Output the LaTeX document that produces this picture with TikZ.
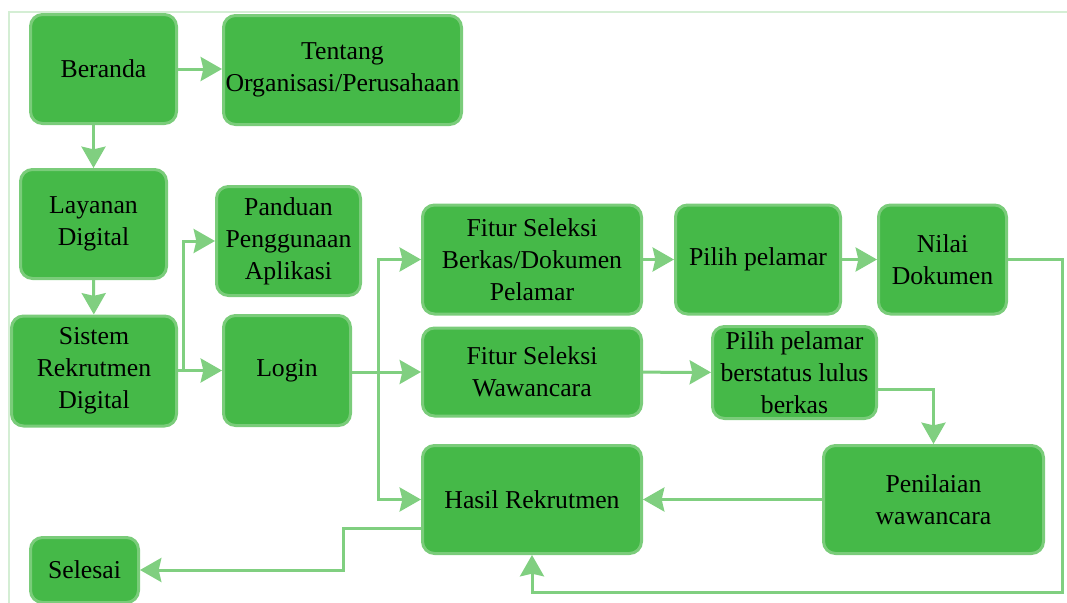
\documentclass[tikz,border=0pt]{standalone}
\usepackage{fontspec}
\setmainfont{Liberation Serif}
\usetikzlibrary{arrows.meta}
\definecolor{boxfill}{RGB}{69,185,72}
\definecolor{boxline}{RGB}{122,204,122}
\definecolor{arrline}{RGB}{128,207,128}
\definecolor{framegreen}{RGB}{212,238,212}
\tikzset{
  box/.style={draw=boxline, fill=boxfill, line width=2.25pt, rounded corners=9pt,
    align=center, inner sep=1pt, font=\fontsize{19.3}{24}\selectfont},
  arr/.style={draw=arrline, line width=2.25pt, -{Stealth[inset=2pt, length=16pt, width=18pt]}}
}
\begin{document}
\begin{tikzpicture}[x=0.75pt, y=-0.75pt]
            \useasboundingbox (0,0) rectangle (1067,603);
            \draw [framegreen, line width=1.1pt] (8,12) -- (1067,12);
            \draw [framegreen, line width=1.1pt] (9,12) -- (9,603);
            % boxes
            \node [box, minimum width=109.5pt, minimum height=81.75pt] (beranda) at (103.5,69) {Beranda};
            \node [box, minimum width=178.5pt, minimum height=81.75pt] (tentang) at (342.5,70) {Tentang\\Organisasi/Perusahaan};
            \node [box, minimum width=109.5pt, minimum height=81.75pt] (layanan) at (93.5,224) {Layanan\\Digital};
            \node [box, minimum width=108pt, minimum height=81.75pt] (panduan) at (288.5,241) {Panduan\\Penggunaan\\Aplikasi};
            \node [box, minimum width=123.75pt, minimum height=82.5pt] (sistem) at (94,371) {Sistem\\Rekrutmen\\Digital};
            \node [box, minimum width=95.25pt, minimum height=82.5pt] (login) at (287,370.5) {Login};
            \node [box, minimum width=164.25pt, minimum height=81.75pt] (fiturBerkas) at (532,259.5) {Fitur Seleksi\\Berkas/Dokumen\\Pelamar};
            \node [box, minimum width=123.75pt, minimum height=81.75pt] (pilih) at (758,259.5) {Pilih pelamar};
            \node [box, minimum width=96pt, minimum height=81.75pt] (nilai) at (942.5,259.5) {Nilai\\Dokumen};
            \node [box, minimum width=164.25pt, minimum height=66pt] (fiturWawancara) at (532,372) {Fitur Seleksi\\Wawancara};
            \node [box, minimum width=123pt, minimum height=69pt] (pilihLulus) at (794.5,372.5) {Pilih pelamar\\berstatus lulus\\berkas};
            \node [box, minimum width=164.25pt, minimum height=81pt] (hasil) at (532,499.5) {Hasil Rekrutmen};
            \node [box, minimum width=165pt, minimum height=81pt] (penilaian) at (933.5,499.5) {Penilaian\\wawancara};
            \node [box, minimum width=81pt, minimum height=48.75pt] (selesai) at (84.5,570) {Selesai};
            % branch points
            \coordinate (sistemSplit) at (183,370.5);
            \coordinate (loginSplit) at (378.5,372);
            % connectors
            \draw [arr] (beranda) -- (tentang.west |- beranda);
            \draw [arr] (layanan.north |- beranda.south) -- (layanan.north);
            \draw [arr] (layanan) -- (sistem);
            \draw [arr] (sistem.east |- login) -- (login);
            \draw [arr] (sistemSplit) |- (panduan.west);
            \draw [arr] (login.east |- fiturWawancara) -- (fiturWawancara);
            \draw [arr] (loginSplit) |- (fiturBerkas.west);
            \draw [arr] (loginSplit) |- (hasil.west);
            \draw [arr] (fiturBerkas) -- (pilih);
            \draw [arr] (pilih) -- (nilai);
            \draw [arr] (fiturWawancara) -- (pilihLulus);
            \draw [arr] (pilihLulus.east |- 0,389) -| (penilaian.north);
            \draw [arr] (penilaian) -- (hasil);
            \draw [arr] (nilai.east) -- (1062,259.5) -- (1062,592) -| (hasil.south);
            \draw [arr] (hasil.west |- 0,528) -- (343,528) |- (selesai.east);
        \end{tikzpicture}
\end{document}
